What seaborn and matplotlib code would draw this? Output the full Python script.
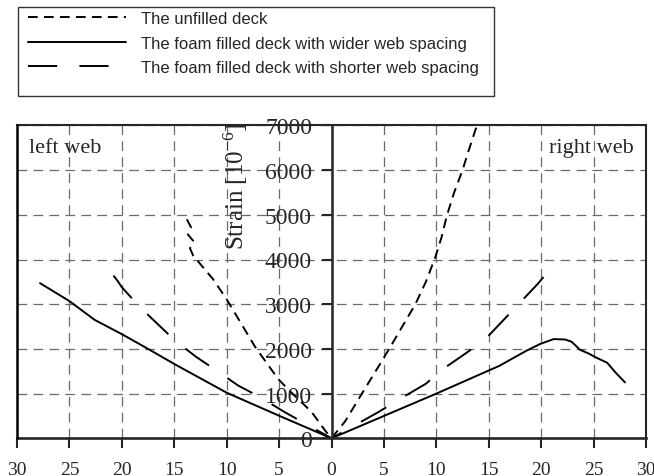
import numpy as np
import pandas as pd
import matplotlib
matplotlib.use('Agg')
import matplotlib.pyplot as plt
from matplotlib.patches import Rectangle
import seaborn as sns

# strain readings along the deck width, left web (negative x) through the middle to the right web
unfilled_x = [-13.8, -13.4, -13.7, -13.2, -13.5, -13.2, -11.3, -10.0, -7.3, -5.1, -3.9, -1.9, -0.5, 0,
              1.3, 2.9, 4.6, 5.5, 7.0, 8.0, 9.0, 9.9, 10.5, 11.0, 11.7, 12.5, 13.1, 13.8]
unfilled_y = [4900, 4720, 4560, 4420, 4250, 4090, 3560, 3110, 2050, 1330, 1040, 590, 140, 0,
              380, 1000, 1650, 2000, 2600, 3000, 3500, 4050, 4500, 4980, 5500, 6000, 6450, 6950]

wide_x = [-27.8, -25.0, -22.6, -20.0, -17.8, -14.9, -10.0, -5.0, 0,
          5.0, 10.0, 16.0, 18.6, 19.9, 21.2, 22.3, 22.9, 23.4, 23.7, 24.5, 25.3, 26.3, 27.1, 28.0]
wide_y = [3470, 3070, 2650, 2330, 2040, 1650, 1020, 505, 0,
          500, 1000, 1620, 1960, 2110, 2220, 2210, 2160, 2050, 1980, 1900, 1800, 1690, 1470, 1250]

short_x = [-20.8, -20.4, -20.0, -18.3, -16.6, -14.9, -12.9, -11.1, -8.9, -6.8, -4.5, 0,
           4.5, 6.6, 9.0, 10.7, 12.8, 14.6, 16.3, 18.0, 19.7, 20.9]
short_y = [3640, 3520, 3380, 2940, 2560, 2180, 1820, 1535, 1180, 920, 590, 0,
           590, 890, 1220, 1560, 1900, 2200, 2620, 3040, 3460, 3800]

labels = ['The unfilled deck',
          'The foam filled deck with wider web spacing',
          'The foam filled deck with shorter web spacing']
x_ticks = list(range(-30, 31, 5))
y_ticks = list(range(0, 7001, 1000))

sns.set_style('ticks')
plt.rcParams['font.family'] = ['Liberation Serif', 'DejaVu Serif']
plt.rcParams['mathtext.fontset'] = 'stix'
plt.rcParams['lines.scale_dashes'] = False

fig = plt.figure(figsize=(6.54, 4.77), dpi=100)
ax = fig.add_axes([17 / 654, 1 - 439.3 / 477, 629 / 654, 312.9 / 477])

sns.lineplot(x=unfilled_x, y=unfilled_y, sort=False, estimator=None, color='k', lw=1.4,
             linestyle=(0, (7, 4.5)), label=labels[0], ax=ax)
sns.lineplot(x=wide_x, y=wide_y, sort=False, estimator=None, color='k', lw=1.4,
             linestyle='-', label=labels[1], ax=ax)
sns.lineplot(x=short_x, y=short_y, sort=False, estimator=None, color='k', lw=1.4,
             linestyle=(0, (21, 16)), label=labels[2], ax=ax)

# spine moves first: moving it resets the ticks
ax.spines['left'].set_position(('data', 0))
ax.spines['left'].set_linewidth(1.8)
ax.spines['bottom'].set_linewidth(1.9)
for s in ['top', 'right']:
    ax.spines[s].set_visible(True)
    ax.spines[s].set_linewidth(1.5)
ax.axvline(-30, color='k', lw=1.8, clip_on=False, zorder=5)

ax.set_xlim(-30, 30)
ax.set_ylim(0, 7000)
ax.set_xticks(x_ticks)
ax.set_xticklabels([str(abs(t)) for t in x_ticks])
ax.set_yticks(y_ticks)
ax.set_yticklabels([str(t) for t in y_ticks])
ax.tick_params(axis='x', direction='out', length=7, width=1.5, pad=9, labelsize=14)
ax.tick_params(axis='y', direction='out', length=7, width=1.5, pad=7, labelsize=17)
ax.set_xlabel('')
ax.set_ylabel('')

ax.grid(True, color='#6a6a6a', lw=0.9, ls=(0, (7, 4.5)))

ax.text(-28.9, 6405, 'left web', fontsize=16, ha='left', va='baseline')
ax.text(28.8, 6405, 'right web', fontsize=16, ha='right', va='baseline')
ax.text(-9.1, 4235, 'Strain [$\\mathregular{10^{-6}}$]', fontsize=18, rotation=90,
        ha='center', va='bottom', clip_on=True)

handles, labs = ax.get_legend_handles_labels()
ax.get_legend().remove()
fig.legend(handles, labs, loc='upper left', bbox_to_anchor=(28 / 654, 1 - 12 / 477),
           frameon=False, borderpad=0, borderaxespad=0, handlelength=5.9,
           handletextpad=0.9, labelspacing=0.57,
           prop={'family': 'Liberation Sans', 'size': 12})
fig.patches.append(Rectangle((18 / 654, 1 - 97 / 477), 476 / 654, 89 / 477,
                             transform=fig.transFigure, fill=False, lw=1.0, ec='#333333'))

fig.savefig('out.png', dpi=100)
